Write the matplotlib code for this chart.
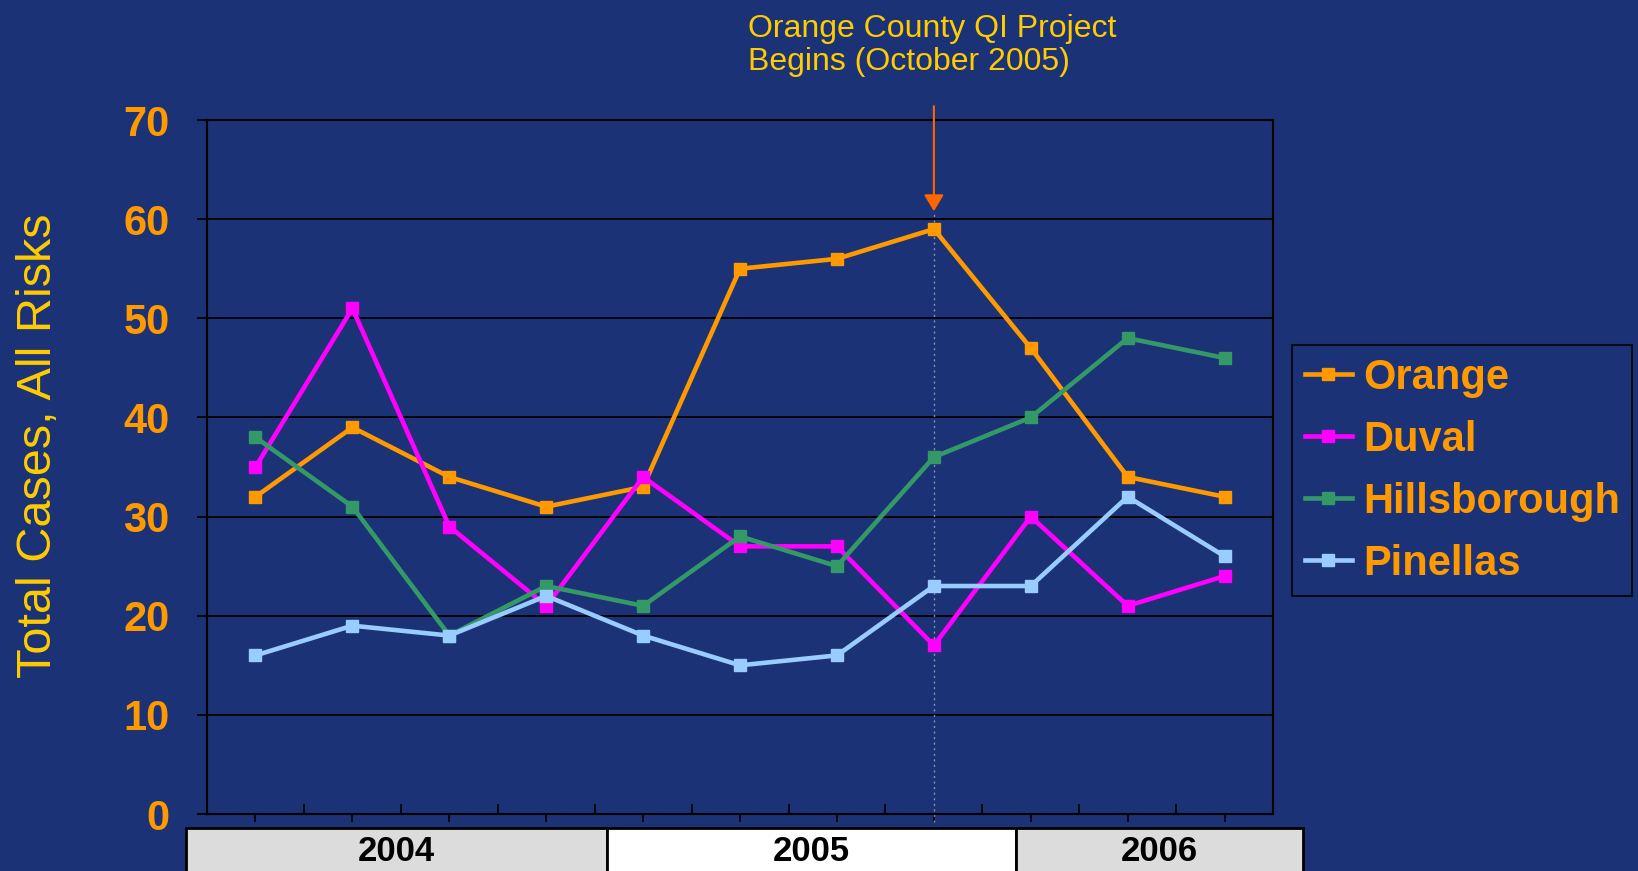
import matplotlib
matplotlib.use("Agg")
import matplotlib.pyplot as plt
from matplotlib.patches import Rectangle

# quarterly totals, 2004 Q1 .. 2006 Q3
quarters = ["2004 Q1", "2004 Q2", "2004 Q3", "2004 Q4",
            "2005 Q1", "2005 Q2", "2005 Q3", "2005 Q4",
            "2006 Q1", "2006 Q2", "2006 Q3"]
orange = [32, 39, 34, 31, 33, 55, 56, 59, 47, 34, 32]
duval = [35, 51, 29, 21, 34, 27, 27, 17, 30, 21, 24]
hillsborough = [38, 31, 18, 23, 21, 28, 25, 36, 40, 48, 46]
pinellas = [16, 19, 18, 22, 18, 15, 16, 23, 23, 32, 26]
series_names = ["Orange", "Duval", "Hillsborough", "Pinellas"]
years = ["2004", "2005", "2006"]
project_start = "2005 Q4"

bg = "#1b3276"
colors = ["#ff9900", "#ff00ff", "#339966", "#99ccff"]
tick_col = "#ff9900"
gold = "#ffcc00"
font = ["Liberation Sans", "DejaVu Sans"]
plt.rcParams["font.family"] = font

fig = plt.figure(figsize=(16.38, 8.71), dpi=100, facecolor=bg)
ax = fig.add_axes([0.1264, 0.0654, 0.6508, 0.7968], facecolor=bg)

x = list(range(len(quarters)))
for name, vals, c in zip(series_names, [orange, duval, hillsborough, pinellas], colors):
    ax.plot(x, vals, color=c, lw=3.3, marker="s", ms=8.5, mec=c, label=name, zorder=3)

ax.set_xlim(-0.5, len(quarters) - 0.5)
ax.set_ylim(0, 70)
ax.set_yticks(range(0, 71, 10))
ax.yaxis.grid(True, color="black", lw=1.3)
ax.set_axisbelow(True)
for s in ax.spines.values():
    s.set_color("black")
    s.set_linewidth(1.5)

ax.tick_params(axis="y", colors="black", labelcolor=tick_col, labelsize=30,
               length=7, width=1.3, pad=20)
for lab in ax.get_yticklabels():
    lab.set_fontweight("bold")
ax.set_xticks(x)
ax.set_xticklabels([])
ax.tick_params(axis="x", which="major", direction="out", length=6, width=1.2, color="black")
ax.set_xticks([i + 0.5 for i in x[:-1]], minor=True)
ax.tick_params(axis="x", which="minor", direction="in", length=7, width=1.2, color="black")

ax.set_ylabel("Total Cases, All Risks", color=gold, fontsize=35, va="center")
ax.yaxis.set_label_coords(-0.158, 0.53)

# year table under the axis
bounds = [-0.0197, 0.3756, 0.759, 1.028]
cell_cols = ["#dcdcdc", "white", "#dcdcdc"]
for i, yr in enumerate(years):
    r = Rectangle((bounds[i], -0.12), bounds[i + 1] - bounds[i], 0.10,
                  transform=ax.transAxes, facecolor=cell_cols[i], edgecolor="black",
                  lw=2, clip_on=False, zorder=5)
    ax.add_patch(r)
    ax.text((bounds[i] + bounds[i + 1]) / 2, -0.054, yr, transform=ax.transAxes,
            ha="center", va="center", fontsize=25, fontweight="bold", color="black",
            zorder=6)

# project start marker
px = quarters.index(project_start)
ax.vlines(px, -0.8, 60.6, colors="#8a8fb0", linestyles=(0, (1.5, 2.5)), lw=1,
          clip_on=False, zorder=2)
ax.annotate("", xy=(px, 60.8), xytext=(px, 71.4),
            arrowprops=dict(arrowstyle="-|>,head_length=0.5,head_width=0.3",
                            color="#ff6600", lw=1.5, mutation_scale=20,
                            shrinkA=0, shrinkB=0),
            annotation_clip=False)
fig.text(748 / 1638, 1 - 70 / 871, "Orange County QI Project\nBegins (October 2005)",
         color=gold, fontsize=23, ha="left", va="baseline", linespacing=1.15)

leg = ax.legend(loc="upper left", bbox_to_anchor=(1292 / 1638, 1 - 345 / 871),
                bbox_transform=fig.transFigure, frameon=True, fancybox=False,
                facecolor=bg, edgecolor="black", fontsize=30, handlelength=1.15,
                handletextpad=0.25, labelspacing=0.53, borderpad=0.3,
                borderaxespad=0, markerscale=1.0)
leg.get_frame().set_linewidth(1.5)
for t in leg.get_texts():
    t.set_color(tick_col)
    t.set_fontweight("bold")

fig.savefig("out.png", dpi=100, facecolor=bg)
